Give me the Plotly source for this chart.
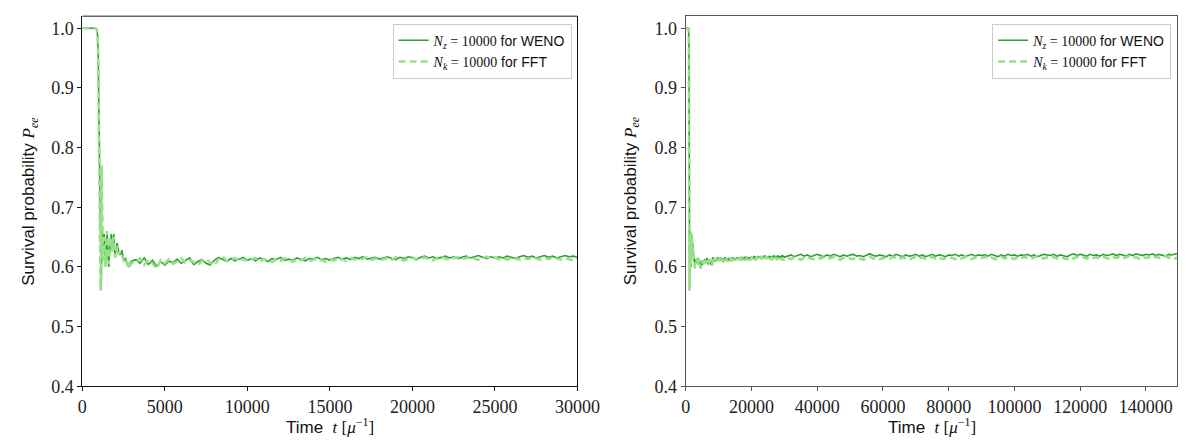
import plotly.graph_objects as go

# ---------------- data ----------------
# early part of the evolution (t < 3000), shared by both runs
t_early = [0, 400, 800, 870, 920, 960, 1000, 1040, 1080, 1110, 1140, 1170, 1200, 1240, 1280,
           1320, 1360, 1400, 1450, 1500, 1550, 1600, 1650, 1700, 1750, 1800, 1850, 1900, 1950,
           2000, 2100, 2200, 2300, 2400, 2500, 2600, 2700, 2800, 2900, 3000]
weno_early = [1.0, 1.0, 1.0, 0.998, 0.99, 0.96, 0.88, 0.76, 0.64, 0.58,
              0.565, 0.61, 0.66, 0.645, 0.62, 0.655, 0.64, 0.605, 0.635, 0.655,
              0.625, 0.60, 0.625, 0.645, 0.655, 0.63, 0.64, 0.655, 0.63, 0.62,
              0.64, 0.625, 0.62, 0.628, 0.61, 0.615, 0.605, 0.60, 0.607, 0.61]
fft_early = [1.0, 1.0, 1.0, 0.998, 0.99, 0.96, 0.88, 0.74, 0.62, 0.56,
             0.62, 0.77, 0.70, 0.63, 0.61, 0.65, 0.63, 0.60, 0.64, 0.66,
             0.62, 0.605, 0.63, 0.65, 0.64, 0.625, 0.645, 0.65, 0.625, 0.615,
             0.635, 0.62, 0.625, 0.62, 0.612, 0.605, 0.61, 0.597, 0.604, 0.607]

# 3250 .. 30000, every 250
t_mid = list(range(3250, 30001, 250))
weno_mid = [0.612, 0.606, 0.615, 0.604, 0.611, 0.601, 0.609, 0.603,
            0.610, 0.607, 0.613, 0.606, 0.611, 0.615, 0.604, 0.609, 0.612, 0.606,
            0.603, 0.611, 0.616, 0.612, 0.609, 0.614, 0.610, 0.613, 0.616, 0.611,
            0.614, 0.610, 0.615, 0.612, 0.609, 0.614, 0.612, 0.616, 0.611, 0.613,
            0.611, 0.615, 0.612, 0.610, 0.614, 0.613, 0.616, 0.612, 0.614, 0.611,
            0.614, 0.616, 0.613, 0.615, 0.612, 0.616, 0.614, 0.617, 0.613, 0.615,
            0.616, 0.613, 0.615, 0.617, 0.614, 0.612, 0.616, 0.614, 0.617, 0.615,
            0.613, 0.616, 0.618, 0.615, 0.617, 0.614, 0.616, 0.618, 0.615, 0.617,
            0.614, 0.616, 0.618, 0.615, 0.617, 0.619, 0.616, 0.614, 0.617, 0.615,
            0.617, 0.615, 0.618, 0.616, 0.614, 0.617, 0.619, 0.616, 0.618, 0.615,
            0.617, 0.619, 0.616, 0.618, 0.615, 0.617, 0.619, 0.617, 0.618, 0.616]
fft_mid = [0.608, 0.614, 0.603, 0.612, 0.606, 0.597, 0.611, 0.606,
           0.613, 0.605, 0.609, 0.614, 0.607, 0.611, 0.608, 0.603, 0.610, 0.613,
           0.607, 0.602, 0.613, 0.617, 0.610, 0.612, 0.615, 0.609, 0.613, 0.610,
           0.612, 0.615, 0.609, 0.613, 0.611, 0.608, 0.613, 0.610, 0.614, 0.612,
           0.609, 0.613, 0.611, 0.615, 0.610, 0.612, 0.614, 0.611, 0.609, 0.613,
           0.611, 0.614, 0.612, 0.610, 0.615, 0.613, 0.611, 0.614, 0.616, 0.612,
           0.614, 0.611, 0.613, 0.615, 0.612, 0.616, 0.613, 0.611, 0.614, 0.616,
           0.612, 0.614, 0.616, 0.613, 0.611, 0.615, 0.617, 0.614, 0.612, 0.615,
           0.616, 0.613, 0.615, 0.617, 0.614, 0.612, 0.615, 0.617, 0.614, 0.616,
           0.613, 0.615, 0.612, 0.616, 0.614, 0.612, 0.615, 0.613, 0.616, 0.614,
           0.612, 0.615, 0.613, 0.616, 0.614, 0.612, 0.615, 0.613, 0.611, 0.614]

# 31000 .. 150000, every 1000 (long run, right panel only)
t_late = list(range(31000, 150001, 1000))
weno_late = [0.618, 0.620, 0.617, 0.619, 0.621, 0.618, 0.620, 0.617, 0.619, 0.621,
             0.619, 0.617, 0.620, 0.618, 0.621, 0.619, 0.617, 0.620, 0.618, 0.620,
             0.621, 0.618, 0.619, 0.617, 0.620, 0.622, 0.619, 0.618, 0.620, 0.619,
             0.617, 0.620, 0.618, 0.621, 0.619, 0.617, 0.620, 0.618, 0.619, 0.621,
             0.618, 0.620, 0.617, 0.619, 0.621, 0.618, 0.620, 0.619, 0.617, 0.620,
             0.619, 0.621, 0.618, 0.620, 0.617, 0.619, 0.621, 0.618, 0.620, 0.619,
             0.620, 0.618, 0.621, 0.619, 0.617, 0.620, 0.618, 0.621, 0.619, 0.620,
             0.618, 0.620, 0.619, 0.621, 0.618, 0.620, 0.617, 0.619, 0.621, 0.620,
             0.619, 0.621, 0.618, 0.620, 0.619, 0.617, 0.620, 0.622, 0.619, 0.621,
             0.620, 0.618, 0.621, 0.619, 0.620, 0.618, 0.621, 0.619, 0.620, 0.622,
             0.619, 0.621, 0.620, 0.618, 0.621, 0.619, 0.622, 0.620, 0.619, 0.621,
             0.620, 0.622, 0.619, 0.621, 0.620, 0.618, 0.621, 0.620, 0.622, 0.621]
fft_late = [0.615, 0.613, 0.616, 0.614, 0.612, 0.615, 0.617, 0.614, 0.613, 0.616,
            0.614, 0.616, 0.613, 0.615, 0.617, 0.614, 0.612, 0.615, 0.616, 0.614,
            0.613, 0.616, 0.614, 0.612, 0.615, 0.617, 0.614, 0.616, 0.613, 0.615,
            0.616, 0.614, 0.617, 0.615, 0.613, 0.616, 0.614, 0.612, 0.615, 0.617,
            0.614, 0.616, 0.613, 0.615, 0.617, 0.614, 0.616, 0.613, 0.615, 0.616,
            0.615, 0.613, 0.616, 0.614, 0.617, 0.615, 0.613, 0.616, 0.614, 0.615,
            0.617, 0.614, 0.616, 0.613, 0.615, 0.617, 0.614, 0.616, 0.615, 0.613,
            0.616, 0.614, 0.617, 0.615, 0.613, 0.616, 0.618, 0.615, 0.614, 0.616,
            0.615, 0.617, 0.614, 0.616, 0.615, 0.613, 0.616, 0.614, 0.617, 0.615,
            0.616, 0.614, 0.617, 0.615, 0.616, 0.614, 0.617, 0.615, 0.613, 0.616,
            0.615, 0.617, 0.614, 0.616, 0.618, 0.615, 0.616, 0.614, 0.617, 0.615,
            0.616, 0.614, 0.617, 0.615, 0.616, 0.618, 0.615, 0.617, 0.614, 0.616]

y_ticks = [0.4, 0.5, 0.6, 0.7, 0.8, 0.9, 1.0]
x_ticks_left = [0, 5000, 10000, 15000, 20000, 25000, 30000]
x_ticks_right = [0, 20000, 40000, 60000, 80000, 100000, 120000, 140000]

# ---------------- styling ----------------
DARK = "#2ca02c"
LIGHT = "#98df8a"
SERIF = "Liberation Serif"
SANS = "Liberation Sans"

def mspan(s):
    return f'<span style="font-family:{SERIF}">{s}</span>'

name_weno = mspan("<i>N</i><sub><i>z</i></sub> = 10000") + " for WENO"
name_fft = mspan("<i>N</i><sub><i>k</i></sub> = 10000") + " for FFT"

t_left = t_early + t_mid
weno_left = weno_early + weno_mid
fft_left = fft_early + fft_mid
t_right = t_early + t_mid + t_late
weno_right = weno_early + weno_mid + weno_late
fft_right = fft_early + fft_mid + fft_late

fig = go.Figure()
for xs, ys_w, ys_f, xa, ya, lg in [(t_left, weno_left, fft_left, "x", "y", "legend"),
                                   (t_right, weno_right, fft_right, "x2", "y2", "legend2")]:
    fig.add_trace(go.Scatter(x=xs, y=ys_w, mode="lines", name=name_weno,
                             line=dict(color=DARK, width=1.6), xaxis=xa, yaxis=ya, legend=lg))
    fig.add_trace(go.Scatter(x=xs, y=ys_f, mode="lines", name=name_fft,
                             line=dict(color=LIGHT, width=2.6, dash="7px,4px"),
                             xaxis=xa, yaxis=ya, legend=lg))

W, H = 1192, 440
yd = [1 - 387 / H, 1 - 8.5 / H]
xd1 = [71 / W, 578 / W]
xd2 = [689 / W, 1.0]

tickfont = dict(family=SERIF, size=18, color="#222")
common_y = dict(range=[0.4, 1.02], tickvals=y_ticks, tickformat=".1f", ticks="outside",
                ticklen=4, tickwidth=1, showgrid=False, zeroline=False,
                tickfont=tickfont, domain=yd, mirror=True, showline=True)
common_x = dict(ticks="outside", ticklen=4, tickwidth=1, showgrid=False, zeroline=False,
                tickfont=tickfont, tickformat="d", showline=True)

legend_common = dict(yanchor="top", xanchor="right",
                     bgcolor="rgba(255,255,255,0.9)", bordercolor="#cccccc", borderwidth=1,
                     font=dict(family=SANS, size=14, color="#111"), tracegroupgap=0,
                     itemwidth=30)

fig.update_layout(
    width=W, height=H, margin=dict(l=0, r=0, t=0, b=0),
    paper_bgcolor="white", plot_bgcolor="white",
    showlegend=True,
    xaxis=dict(common_x, range=[0, 30000], tickvals=x_ticks_left, domain=xd1, anchor="y",
               linecolor="#111", tickcolor="#111", mirror=False),
    yaxis=dict(common_y, anchor="x", linecolor="#111", tickcolor="#111"),
    xaxis2=dict(common_x, range=[0, 149480], tickvals=x_ticks_right, domain=xd2, anchor="y2",
                linecolor="#555", tickcolor="#555", mirror=True, linewidth=1.4),
    yaxis2=dict(common_y, anchor="x2", linecolor="#555", tickcolor="#555", linewidth=1.4),
    legend=dict(legend_common, x=572 / W, y=1 - 16 / H),
    legend2=dict(legend_common, x=1186 / W, y=1 - 16 / H),
)

# top spine of left panel (grey, as in the reference)
fig.add_shape(type="line", xref="paper", yref="paper", x0=xd1[0], x1=xd1[1], y0=yd[1], y1=yd[1],
              line=dict(color="#666", width=1.6))

ytitle = "Survival probability " + mspan("<i>P</i><sub><i>ee</i></sub>")
xtitle = "Time  " + mspan("<i>t</i> [<i>μ</i><sup>−1</sup>]")
titlefont = dict(family=SANS, size=17, color="#111")
ymid = (yd[0] + yd[1]) / 2
fig.add_annotation(text=ytitle, x=18 / W, y=ymid, xref="paper", yref="paper",
                   textangle=-90, showarrow=False, font=titlefont, xanchor="center", yanchor="middle")
fig.add_annotation(text=ytitle, x=634 / W, y=ymid, xref="paper", yref="paper",
                   textangle=-90, showarrow=False, font=titlefont, xanchor="center", yanchor="middle")
fig.add_annotation(text=xtitle, x=(xd1[0] + xd1[1]) / 2, y=1 - 428 / H, xref="paper", yref="paper",
                   showarrow=False, font=titlefont, xanchor="center", yanchor="middle")
fig.add_annotation(text=xtitle, x=(689 + 1194) / 2 / W, y=1 - 428 / H, xref="paper", yref="paper",
                   showarrow=False, font=titlefont, xanchor="center", yanchor="middle")

fig.write_html("out.html")
